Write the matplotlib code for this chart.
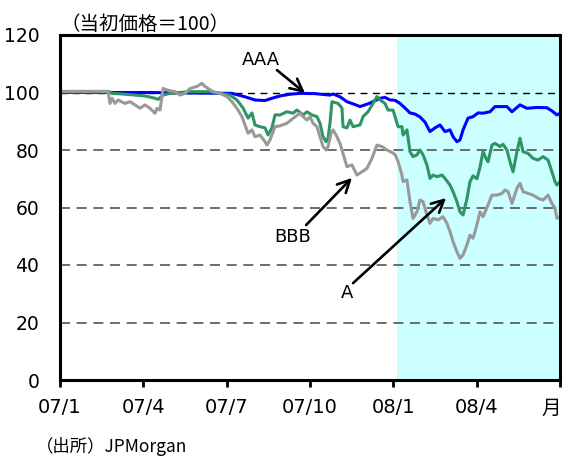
import matplotlib
matplotlib.use("Agg")
import matplotlib.pyplot as plt
from matplotlib.transforms import ScaledTranslation

plt.rcParams['font.family'] = ['DejaVu Sans', 'Noto Sans CJK JP']

# x positions in months since Jan 2007
aaa_x = [0.00, 1.44, 3.24, 3.96, 5.04, 6.19, 6.66, 7.02, 7.38, 7.63, 7.92, 8.28, 8.64, 9.18, 9.72, 9.83,
         10.08, 10.33, 10.62, 10.80, 11.16, 11.52, 11.70, 11.88, 12.06, 12.24, 12.42, 12.60, 12.78, 12.96,
         13.14, 13.32, 13.50, 13.68, 13.86, 14.04, 14.15, 14.29, 14.40, 14.51, 14.69, 14.87, 15.05, 15.23,
         15.48, 15.66, 16.09, 16.27, 16.56, 16.81, 17.17, 17.53, 17.71, 17.89, 18.00]
aaa_v = [100.0, 100.0, 100.0, 99.9, 99.8, 99.7, 98.5, 97.4, 97.2, 98.0, 98.8, 99.4, 99.7, 99.6, 99.1, 99.5,
         98.5, 96.8, 95.8, 95.1, 96.3, 98.0, 98.3, 97.4, 97.3, 96.2, 94.6, 92.9, 92.5, 91.5,
         89.7, 86.4, 87.7, 88.7, 86.4, 87.0, 84.6, 82.9, 83.5, 87.0, 91.1, 91.6, 92.9, 92.8,
         93.3, 95.1, 95.1, 93.3, 95.7, 94.5, 94.8, 94.7, 93.6, 92.2, 92.8]

a_x = [0.00, 1.80, 1.87, 2.23, 2.70, 3.06, 3.42, 3.53, 3.71, 3.96, 4.68, 5.40, 5.76, 6.12, 6.37, 6.59,
       6.77, 6.91, 7.02, 7.20, 7.38, 7.49, 7.63, 7.74, 7.92, 8.17, 8.39, 8.53, 8.75, 8.89, 9.07, 9.25,
       9.36, 9.47, 9.58, 9.65, 9.72, 9.79, 10.01, 10.15, 10.19, 10.33, 10.44, 10.55, 10.80, 10.91, 11.09,
       11.27, 11.41, 11.52, 11.70, 11.81, 11.99, 12.17, 12.31, 12.35, 12.49, 12.60, 12.71, 12.85, 12.96,
       13.07, 13.21, 13.32, 13.43, 13.57, 13.75, 13.86, 14.04, 14.15, 14.29, 14.40, 14.51, 14.65, 14.76,
       14.87, 15.01, 15.12, 15.23, 15.34, 15.41, 15.55, 15.66, 15.84, 15.95, 16.09, 16.20, 16.31, 16.45,
       16.56, 16.67, 16.85, 17.03, 17.21, 17.39, 17.57, 17.71, 17.82, 17.89, 18.00]
a_v = [100.2, 100.2, 99.7, 99.5, 99.1, 98.8, 98.0, 97.6, 99.1, 99.7, 100.3, 100.3, 99.7, 99.1, 97.4, 94.6,
       91.1, 92.9, 88.7, 88.1, 87.7, 85.2, 87.7, 92.2, 92.2, 93.3, 92.8, 93.9, 92.2, 93.3, 92.2, 91.6,
       89.3, 84.6, 82.9, 84.2, 89.3, 96.8, 96.2, 94.6, 88.1, 87.7, 90.4, 88.1, 88.7, 91.6, 93.3,
       96.2, 98.6, 97.4, 96.2, 93.9, 93.9, 88.1, 88.1, 85.2, 87.0, 79.4, 77.7, 78.3, 80.0,
       78.3, 74.8, 70.1, 71.3, 70.7, 71.3, 70.1, 67.8, 65.5, 62.0, 58.5, 57.4, 63.0, 69.0,
       71.0, 70.0, 74.0, 79.5, 77.0, 75.9, 81.7, 82.3, 81.2, 82.0, 80.0, 75.9, 72.4, 79.4,
       84.1, 79.4, 78.8, 77.1, 76.5, 77.7, 76.5, 72.4, 69.0, 67.8, 69.0]

bbb_x = [0.00, 1.73, 1.80, 1.87, 1.98, 2.09, 2.34, 2.52, 2.70, 2.88, 3.06, 3.24, 3.42, 3.49, 3.60, 3.71,
         3.85, 3.96, 4.14, 4.32, 4.50, 4.68, 4.93, 5.11, 5.22, 5.33, 5.51, 5.76, 6.01, 6.19, 6.37, 6.55,
         6.66, 6.77, 6.91, 7.02, 7.20, 7.38, 7.45, 7.56, 7.74, 7.92, 8.17, 8.39, 8.64, 8.75, 8.89, 9.00,
         9.11, 9.25, 9.36, 9.47, 9.58, 9.65, 9.76, 9.83, 9.97, 10.08, 10.19, 10.33, 10.51, 10.69, 10.87,
         11.05, 11.23, 11.41, 11.59, 11.77, 11.88, 12.06, 12.17, 12.31, 12.35, 12.49, 12.60, 12.71, 12.85,
         12.96, 13.07, 13.21, 13.32, 13.43, 13.61, 13.79, 13.93, 14.04, 14.15, 14.29, 14.40, 14.51, 14.65,
         14.76, 14.87, 14.98, 15.12, 15.23, 15.41, 15.55, 15.73, 15.91, 16.02, 16.13, 16.27, 16.45, 16.56,
         16.67, 16.85, 17.03, 17.21, 17.39, 17.57, 17.71, 17.82, 17.89, 18.00]
bbb_v = [100.4, 100.4, 96.2, 98.0, 96.2, 97.4, 96.2, 96.8, 95.7, 94.5, 95.7, 94.5, 92.8, 94.5, 93.9, 101.4,
         100.9, 100.6, 100.3, 99.1, 99.7, 101.4, 102.1, 103.2, 102.1, 101.4, 100.3, 99.7, 98.6, 96.8, 94.5, 91.6,
         88.7, 85.8, 87.0, 84.6, 85.2, 82.9, 81.7, 83.5, 88.1, 88.4, 89.3, 91.0, 92.8, 91.6, 90.4, 91.6,
         89.3, 88.1, 84.6, 81.2, 80.0, 81.2, 85.8, 87.0, 84.6, 82.3, 78.8, 74.2, 74.8, 71.3, 72.4,
         73.6, 77.1, 81.7, 81.2, 80.0, 79.5, 78.5, 76.0, 71.3, 69.0, 69.6, 62.0, 56.2, 58.5,
         62.6, 62.0, 57.4, 54.5, 56.2, 55.7, 56.8, 54.5, 51.6, 48.1, 44.6, 42.3, 43.5, 47.0,
         50.4, 49.3, 52.9, 58.5, 56.8, 60.9, 64.3, 64.3, 64.9, 66.1, 65.5, 61.4, 66.7, 68.4,
         65.5, 64.9, 64.3, 63.2, 62.6, 64.3, 61.4, 59.7, 56.2, 56.8]

x_ticks = [0, 3, 6, 9, 12, 15, 18]
x_labels = ['07/1', '07/4', '07/7', '07/10', '08/1', '08/4', '月']
y_ticks = [0, 20, 40, 60, 80, 100, 120]
shade_start, shade_end = 12.13, 18.0

fig = plt.figure(figsize=(5.62, 4.59), dpi=100)
ax = fig.add_axes([60/562, 1-380/459, 500/562, 345/459])

ax.axvspan(shade_start, shade_end, color='#CCFFFF', zorder=0, lw=0)
for y in [20, 40, 60, 80]:
    ax.axhline(y, color='#555555', lw=1.2, dashes=(6, 4), zorder=1)
ax.axhline(100, color='black', lw=1.0, dashes=(5, 4), zorder=1)

ax.plot(aaa_x, aaa_v, color='#0000FF', lw=2.2, zorder=3)
ax.plot(a_x, a_v, color='#2E9463', lw=2.2, zorder=4)
ax.plot(bbb_x, bbb_v, color='#999999', lw=2.2, zorder=5)

ax.set_xlim(0, 18)
ax.set_ylim(0, 120)
ax.set_xticks(x_ticks)
ax.set_xticklabels(x_labels, fontsize=14)
ax.set_yticks(y_ticks)
ax.set_yticklabels([str(v) for v in y_ticks], fontsize=13.5)
ax.tick_params(axis='x', direction='out', length=5, width=2, pad=8)
ax.tick_params(axis='y', length=0, pad=15)
last = ax.get_xticklabels()[-1]
last.set_family(['Noto Sans CJK JP'])
last.set_horizontalalignment('right')
last.set_transform(last.get_transform() + ScaledTranslation(0.5/100, 0, fig.dpi_scale_trans))
for s in ax.spines.values():
    s.set_linewidth(2.2)
    s.set_color('black')
    s.set_zorder(6)

arrow = dict(arrowstyle='->', lw=1.9, color='black', mutation_scale=22, shrinkA=0, shrinkB=0)
ax.text(7.24, 111.3, 'AAA', fontsize=13, ha='center', va='center', zorder=7)
ax.annotate('', xy=(8.82, 99.8), xytext=(7.81, 107.8), arrowprops=arrow, zorder=7)
ax.text(8.39, 49.7, 'BBB', fontsize=13, ha='center', va='center', zorder=7)
ax.annotate('', xy=(10.51, 70.3), xytext=(8.86, 53.9), arrowprops=arrow, zorder=7)
ax.text(10.33, 30.3, 'A', fontsize=13, ha='center', va='center', zorder=7)
ax.annotate('', xy=(13.9, 63.3), xytext=(10.55, 33.7), arrowprops=arrow, zorder=7)

fig.text(60/562, 1-24/459, '（当初価格＝100）', fontsize=14, ha='left', va='center',
         family=['Noto Sans CJK JP'])
fig.text(36/562, 1-447/459, '（出所）JPMorgan', fontsize=12.5, ha='left', va='center',
         family=['Noto Sans CJK JP'])

fig.savefig('out.png', dpi=100)
